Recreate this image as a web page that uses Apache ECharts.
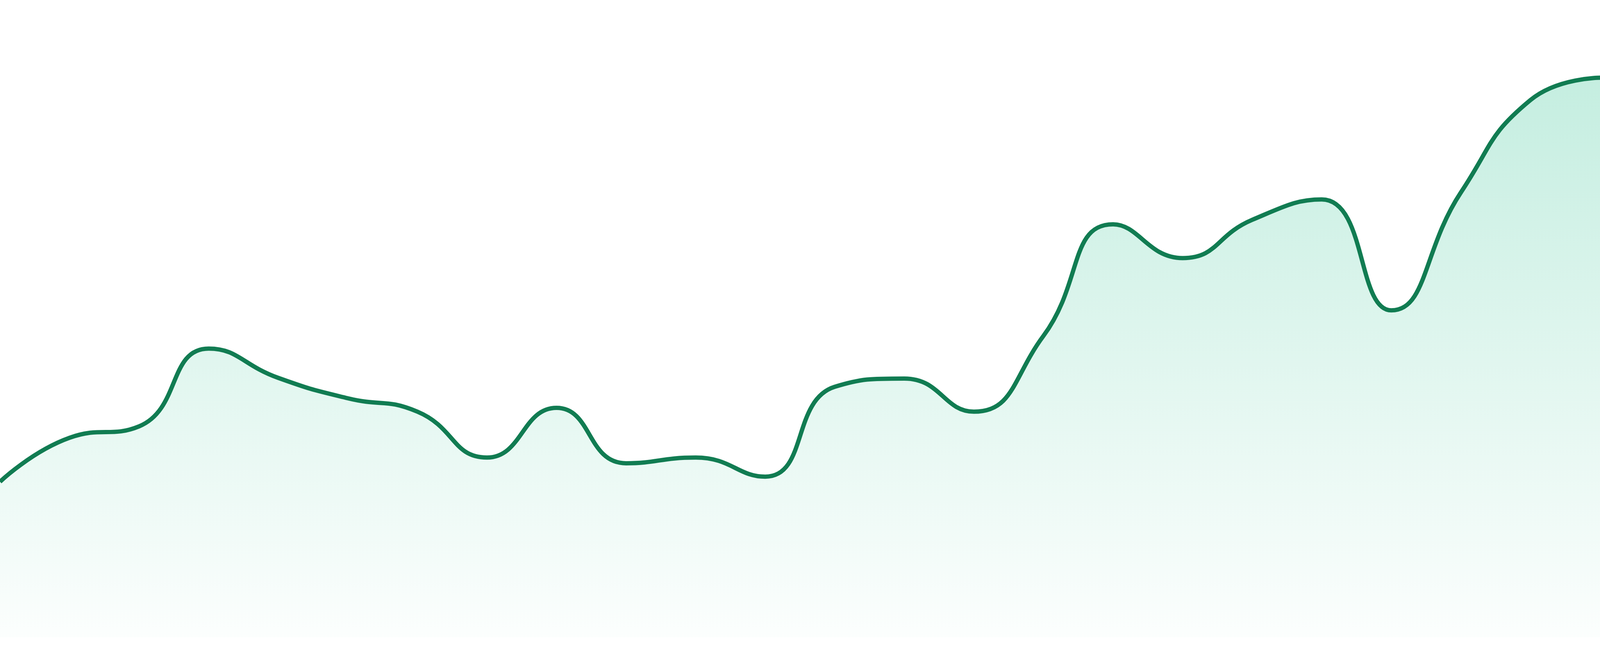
<!DOCTYPE html>
<html>
<head>
<meta charset="utf-8">
<script src="https://cdn.jsdelivr.net/npm/echarts@6/dist/echarts.min.js"></script>
<style>
html,body{margin:0;padding:0;background:#ffffff;overflow:hidden;}
#chart{width:100vw;height:100vh;}
</style>
</head>
<body>
<div id="chart"></div>
<script>
const categories = ["1","2","3","4","5","6","7","8","9","10","11","12","13","14","15","16","17","18","19","20","21","22","23","24"];
const values = [24.4, 31.3, 33.1, 45.3, 40.7, 37.5, 35.4, 28.2, 36.0, 27.3, 28.2, 25.2, 39.3, 40.6, 35.4, 47.3, 64.8, 59.5, 65.5, 68.7, 51.3, 69.8, 84.3, 87.8];
const yMin = 0;
const yMax = 100;

const chart = echarts.init(document.getElementById('chart'));
chart.setOption({
  animation: false,
  backgroundColor: '#ffffff',
  grid: { left: 0, right: 0, top: 0, bottom: 48 },
  xAxis: { type: 'category', data: categories, boundaryGap: false, show: false },
  yAxis: { type: 'value', min: yMin, max: yMax, show: false, splitLine: { show: false } },
  series: [{
    type: 'line',
    data: values,
    smooth: true,
    symbol: 'none',
    lineStyle: { color: '#117c52', width: 11 },
    areaStyle: {
      color: new echarts.graphic.LinearGradient(0, 0, 0, 1, [
        { offset: 0, color: 'rgba(16,185,129,0.35)' },
        { offset: 1, color: 'rgba(16,185,129,0.02)' }
      ])
    }
  }]
});
window.addEventListener('resize', function () { chart.resize(); });
</script>
</body>
</html>
